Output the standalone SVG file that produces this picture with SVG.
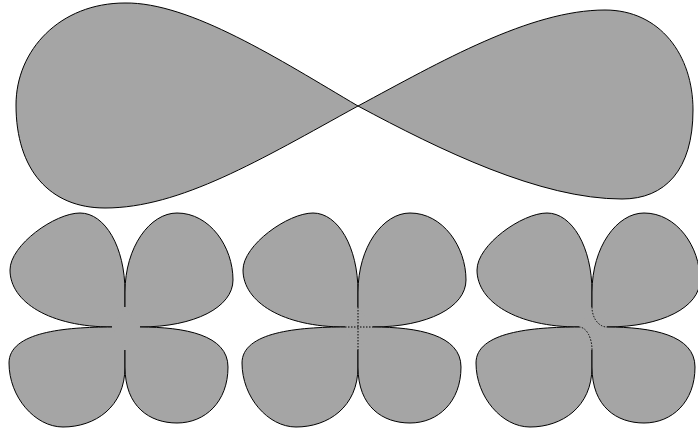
<svg xmlns="http://www.w3.org/2000/svg" xmlns:xlink="http://www.w3.org/1999/xlink" width="698" height="432" viewBox="0 0 698 432">
<style>
.shape{fill:#a5a5a5;stroke:#000;stroke-width:1;stroke-linejoin:round}
.core{fill:#a5a5a5;stroke:none}
.dots{fill:none;stroke:#000;stroke-width:1;stroke-dasharray:1.5 1.5}
</style>
<defs>
<g id="petals">
<polygon class="core" points="0,-22 16,0 0,25 -15,0"/>
<path class="shape" d="M0,-20 L0,-35 C0,-80 -20,-114 -45,-114 C-70,-114 -115,-82 -115,-57 C-115,-25 -75,0 -13,0"/>
<path class="shape" d="M0,-20 L0,-35 C0,-80 25,-114 52,-114 C85,-114 108,-80 108,-47 C108,-20 70,0 15,0"/>
<path class="shape" d="M-13,0 C-60,0 -116,5 -116,36 C-116,70 -90,100 -62,100 C-30,100 0,80 0,40 L0,23"/>
<path class="shape" d="M15,0 C60,0 103,8 103,40 C103,75 80,96 52,96 C25,96 0,80 0,40 L0,23"/>
</g>
</defs>
<g id="figure-eight">
<path class="shape" d="M358,106 C440,62 530,10 605,10 C660,10 693,55 693,110 C693,170 665,199 622,199 C540,199 440,150 358,106 C260,160 180,208 105,208 C50,208 16,170 16,105 C16,50 60,3 125,3 C190,2 280,60 358,106 Z"/>
</g>
<g id="clover-1" transform="translate(125,327)">
<use href="#petals" xlink:href="#petals"/>
</g>
<g id="clover-2" transform="translate(358,327)">
<use href="#petals" xlink:href="#petals"/>
<path class="dots" d="M0,-20 L0,23 M-13,0 L15,0"/>
</g>
<g id="clover-3" transform="translate(592,327)">
<use href="#petals" xlink:href="#petals"/>
<path class="dots" d="M0,-20 A15,20 0 0 0 15,0 M-13,0 A13,23 0 0 1 0,23"/>
</g>
</svg>
